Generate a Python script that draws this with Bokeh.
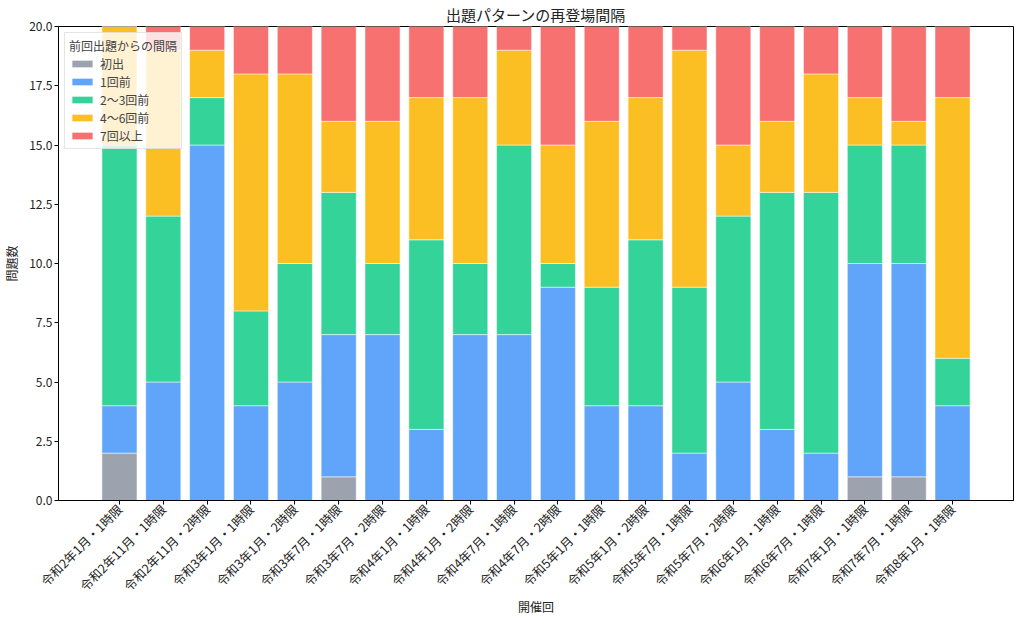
from math import pi

from bokeh.embed import file_html
from bokeh.models import ColumnDataSource, FactorRange, NumeralTickFormatter, SingleIntervalTicker, Range1d
from bokeh.plotting import figure
from bokeh.resources import INLINE

# 開催回
sessions = [
    "令和2年1月・1時限", "令和2年11月・1時限", "令和2年11月・2時限",
    "令和3年1月・1時限", "令和3年1月・2時限", "令和3年7月・1時限",
    "令和3年7月・2時限", "令和4年1月・1時限", "令和4年1月・2時限",
    "令和4年7月・1時限", "令和4年7月・2時限", "令和5年1月・1時限",
    "令和5年1月・2時限", "令和5年7月・1時限", "令和5年7月・2時限",
    "令和6年1月・1時限", "令和6年7月・1時限", "令和7年1月・1時限",
    "令和7年7月・1時限", "令和8年1月・1時限",
]

# 前回出題からの間隔ごとの問題数
first_time = [2, 0, 0, 0, 0, 1, 0, 0, 0, 0, 0, 0, 0, 0, 0, 0, 0, 1, 1, 0]
prev_1 = [2, 5, 15, 4, 5, 6, 7, 3, 7, 7, 9, 4, 4, 2, 5, 3, 2, 9, 9, 4]
prev_2_3 = [11, 7, 2, 4, 5, 6, 3, 8, 3, 8, 1, 5, 7, 7, 7, 10, 11, 5, 5, 2]
prev_4_6 = [5, 7, 2, 10, 8, 3, 6, 6, 7, 4, 5, 7, 6, 10, 3, 3, 5, 2, 1, 11]
prev_7_plus = [0, 1, 1, 2, 2, 4, 4, 3, 3, 1, 5, 4, 3, 1, 5, 4, 2, 3, 4, 3]

keys = ["first", "p1", "p23", "p46", "p7"]
labels = ["初出", "1回前", "2〜3回前", "4〜6回前", "7回以上"]
colors = ["#9ca3af", "#60a5fa", "#34d399", "#fbbf24", "#f87171"]

source = ColumnDataSource(data=dict(
    session=sessions, first=first_time, p1=prev_1, p23=prev_2_3, p46=prev_4_6, p7=prev_7_plus))

FONT = "Noto Sans CJK JP"

p = figure(
    x_range=FactorRange(*sessions, range_padding=0.89, range_padding_units="absolute"),
    y_range=Range1d(0, 20),
    width=1014, height=618,
    title="出題パターンの再登場間隔",
    x_axis_label="開催回", y_axis_label="問題数",
    output_backend="svg", toolbar_location=None,
    min_border_left=53, min_border_right=1, min_border_top=19, min_border_bottom=0,
)

p.vbar_stack(keys, x="session", width=0.8, source=source, color=colors,
             line_color="white", line_width=0.5, legend_label=labels)

# title
p.title.align = "center"
p.title.text_font = FONT
p.title.text_font_size = "15px"
p.title.text_font_style = "normal"
p.title.text_color = "#222222"
p.title.standoff = 3

# axes
p.yaxis.ticker = SingleIntervalTicker(interval=2.5)
p.yaxis.formatter = NumeralTickFormatter(format="0.0")
p.xaxis.major_label_orientation = pi / 4
for ax in (p.xaxis[0], p.yaxis[0]):
    ax.axis_line_color = "black"
    ax.major_tick_line_color = "black"
    ax.major_tick_out = 4
    ax.major_tick_in = 0
    ax.minor_tick_line_color = None
    ax.major_label_text_font = FONT
    ax.major_label_text_font_size = "12.5px"
    ax.major_label_text_color = "#222222"
    ax.major_label_standoff = 2
    ax.axis_label_text_font = FONT
    ax.axis_label_text_font_size = "12px"
    ax.axis_label_text_font_style = "normal"
    ax.axis_label_text_color = "#222222"
p.xaxis.axis_label_standoff = -6
p.yaxis.major_label_text_font_size = "12px"
p.yaxis.axis_label_standoff = 6

p.xgrid.grid_line_color = None
p.ygrid.grid_line_color = None
p.outline_line_color = "black"
p.outline_line_alpha = 1

# legend
p.legend.location = "top_left"
p.legend.title = "前回出題からの間隔"
p.legend.title_text_font = FONT
p.legend.title_text_font_size = "12px"
p.legend.title_text_font_style = "normal"
p.legend.title_standoff = 1
p.legend.label_text_font = FONT
p.legend.label_text_font_size = "12px"
p.legend.glyph_width = 26
p.legend.glyph_height = 9
p.legend.label_height = 12
p.legend.spacing = 1
p.legend.margin = 6
p.legend.padding = 4
p.legend.background_fill_alpha = 0.8
p.legend.border_line_color = "#cccccc"

open("out.html", "w").write(file_html(p, INLINE))
